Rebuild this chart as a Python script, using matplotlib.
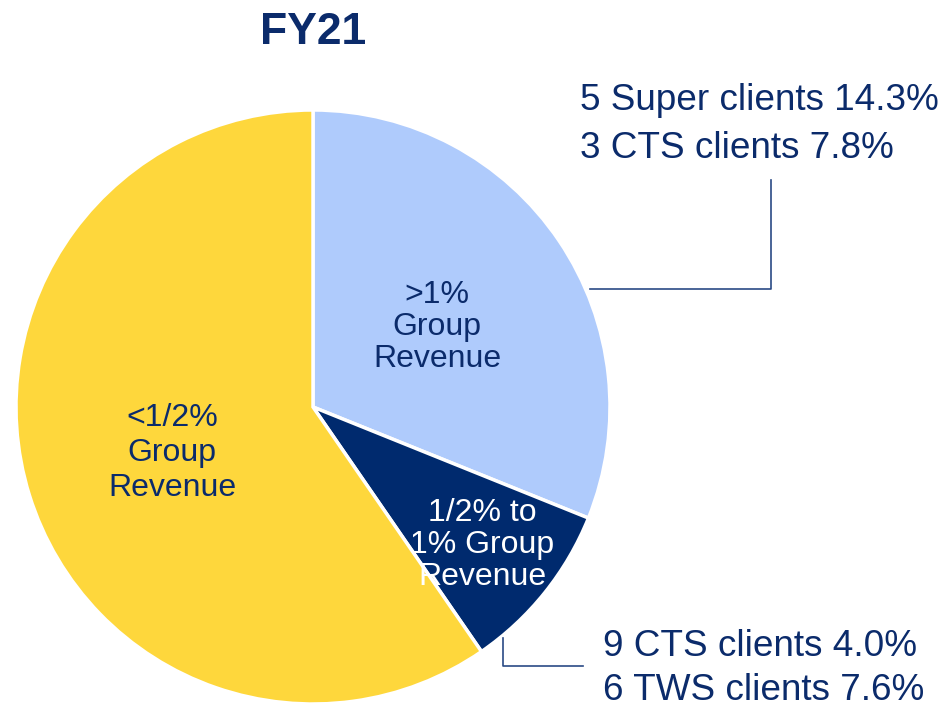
import matplotlib
matplotlib.use("Agg")
import matplotlib.pyplot as plt

plt.rcParams['font.family'] = ['Liberation Sans', 'DejaVu Sans']

# Data
title = "FY21"
segments = [">1%\nGroup\nRevenue", "1/2% to\n1% Group\nRevenue", "<1/2%\nGroup\nRevenue"]
shares = [31.1, 9.3, 59.6]
colors = ["#AFCBFC", "#002A6E", "#FED73C"]
label_colors = ["#0B2B6B", "white", "#0B2B6B"]
top_note = ["5 Super clients 14.3%", "3 CTS clients 7.8%"]
bottom_note = ["9 CTS clients 4.0%", "6 TWS clients 7.6%"]

NAVY = "#0B2B6B"
W, H = 949, 714
fig = plt.figure(figsize=(W / 100, H / 100), dpi=100)
ax = fig.add_axes([0, 0, 1, 1])

cx, cy, r = 313, H - 407, 297
wedges, _ = ax.pie(shares, colors=colors, startangle=90, counterclock=False,
                   center=(cx, cy), radius=r, frame=True,
                   wedgeprops=dict(edgecolor='white', linewidth=2.5))
ax.set_xlim(0, W)
ax.set_ylim(0, H)
ax.set_aspect('equal')
ax.axis('off')

label_pos = [(437, H - 327), (482, H - 545), (172, H - 453)]
label_spacing = [1.1, 1.1, 1.2]
for txt, (x, y), c, ls in zip(segments, label_pos, label_colors, label_spacing):
    ax.text(x, y, txt, ha='center', va='center', color=c, fontsize=23,
            linespacing=ls)

ax.text(313, H - 33, title, ha='center', va='center', color=NAVY,
        fontsize=32, fontweight='bold')

for i, t in enumerate(top_note):
    ax.text(580, H - (101 + 47 * i), t, ha='left', va='center', color=NAVY,
            fontsize=26.6)
for i, t in enumerate(bottom_note):
    ax.text(603, H - (647 + 43 * i), t, ha='left', va='center', color=NAVY,
            fontsize=26.6)

# leader lines
ax.plot([590, 771, 771], [H - 289, H - 289, H - 180], color="#2A4A85", lw=1.2)
ax.plot([503, 503, 583], [H - 638, H - 666, H - 666], color="#2A4A85", lw=1.2)

fig.savefig("out.png", dpi=100)
